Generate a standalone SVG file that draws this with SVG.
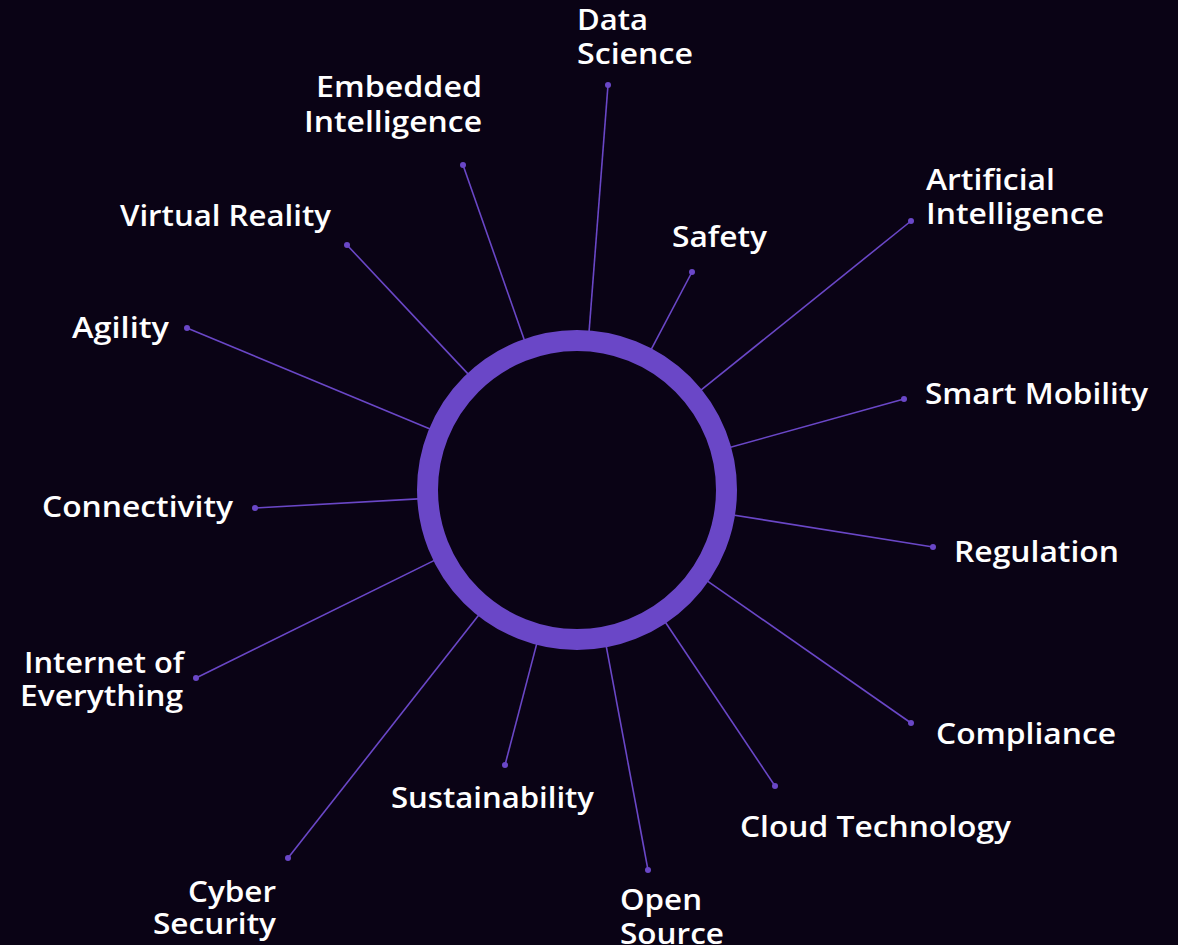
<svg xmlns="http://www.w3.org/2000/svg" width="1178" height="945" viewBox="0 0 1178 945">
<style>
.bg{fill:#0a0315}
.ring{fill:none;stroke:#6a47c7;stroke-width:21}
.conn line{stroke:#6a47c7;stroke-width:1.6}
.dot{fill:#6a47c7}
text{font-family:"Open Sans","Liberation Sans",sans-serif;font-weight:600;font-size:28px;fill:#ffffff}
</style>
<rect class="bg" x="0" y="0" width="1178" height="945"/>
<g id="connectors" class="conn">
<line x1="588.4" y1="340.4" x2="608" y2="85"/>
<line x1="527.3" y1="348.4" x2="463" y2="165"/>
<line x1="474.3" y1="380.6" x2="347" y2="245"/>
<line x1="438.5" y1="432.5" x2="187" y2="328"/>
<line x1="427.2" y1="498.4" x2="255" y2="508"/>
<line x1="442.5" y1="556.4" x2="196" y2="678"/>
<line x1="484.3" y1="608" x2="288" y2="858"/>
<line x1="539" y1="635.1" x2="505" y2="765"/>
<line x1="604.6" y1="637.4" x2="648" y2="870"/>
<line x1="660.4" y1="614.7" x2="775" y2="786"/>
<line x1="700" y1="575.8" x2="911" y2="723"/>
<line x1="725.1" y1="513.7" x2="933" y2="547"/>
<line x1="721.5" y1="449.8" x2="904" y2="399"/>
<line x1="693.8" y1="395.9" x2="911" y2="221"/>
<line x1="647" y1="357.3" x2="692" y2="272"/>
</g>
<g id="hub"><circle class="ring" cx="577" cy="490" r="149.5"/></g>
<g id="n-data-science"><circle class="dot" cx="608" cy="85" r="3"/><text x="577" y="30" textLength="71" lengthAdjust="spacingAndGlyphs">Data</text><text x="577" y="64" textLength="116" lengthAdjust="spacingAndGlyphs">Science</text></g>
<g id="n-embedded"><circle class="dot" cx="463" cy="165" r="3"/><text x="316" y="97" textLength="166" lengthAdjust="spacingAndGlyphs">Embedded</text><text x="304" y="132" textLength="178" lengthAdjust="spacingAndGlyphs">Intelligence</text></g>
<g id="n-vr"><circle class="dot" cx="347" cy="245" r="3"/><text x="120" y="226" textLength="211" lengthAdjust="spacingAndGlyphs">Virtual Reality</text></g>
<g id="n-agility"><circle class="dot" cx="187" cy="328" r="3"/><text x="72" y="338" textLength="97" lengthAdjust="spacingAndGlyphs">Agility</text></g>
<g id="n-connectivity"><circle class="dot" cx="255" cy="508" r="3"/><text x="42" y="517" textLength="191" lengthAdjust="spacingAndGlyphs">Connectivity</text></g>
<g id="n-ioe"><circle class="dot" cx="196" cy="678" r="3"/><text x="24" y="673" textLength="160" lengthAdjust="spacingAndGlyphs">Internet of</text><text x="20" y="706" textLength="163" lengthAdjust="spacingAndGlyphs">Everything</text></g>
<g id="n-cyber"><circle class="dot" cx="288" cy="858" r="3"/><text x="188" y="902" textLength="88" lengthAdjust="spacingAndGlyphs">Cyber</text><text x="153" y="934" textLength="123" lengthAdjust="spacingAndGlyphs">Security</text></g>
<g id="n-sustainability"><circle class="dot" cx="505" cy="765" r="3"/><text x="391" y="808" textLength="203" lengthAdjust="spacingAndGlyphs">Sustainability</text></g>
<g id="n-open-source"><circle class="dot" cx="648" cy="870" r="3"/><text x="620" y="910" textLength="82" lengthAdjust="spacingAndGlyphs">Open</text><text x="620" y="944" textLength="104" lengthAdjust="spacingAndGlyphs">Source</text></g>
<g id="n-cloud"><circle class="dot" cx="775" cy="786" r="3"/><text x="740" y="837" textLength="271" lengthAdjust="spacingAndGlyphs">Cloud Technology</text></g>
<g id="n-compliance"><circle class="dot" cx="911" cy="723" r="3"/><text x="936" y="744" textLength="180" lengthAdjust="spacingAndGlyphs">Compliance</text></g>
<g id="n-regulation"><circle class="dot" cx="933" cy="547" r="3"/><text x="954" y="562" textLength="165" lengthAdjust="spacingAndGlyphs">Regulation</text></g>
<g id="n-smart-mobility"><circle class="dot" cx="904" cy="399" r="3"/><text x="925" y="404" textLength="223" lengthAdjust="spacingAndGlyphs">Smart Mobility</text></g>
<g id="n-ai"><circle class="dot" cx="911" cy="221" r="3"/><text x="926" y="190" textLength="129" lengthAdjust="spacingAndGlyphs">Artificial</text><text x="926" y="224" textLength="178" lengthAdjust="spacingAndGlyphs">Intelligence</text></g>
<g id="n-safety"><circle class="dot" cx="692" cy="272" r="3"/><text x="672" y="247" textLength="95" lengthAdjust="spacingAndGlyphs">Safety</text></g>
</svg>
